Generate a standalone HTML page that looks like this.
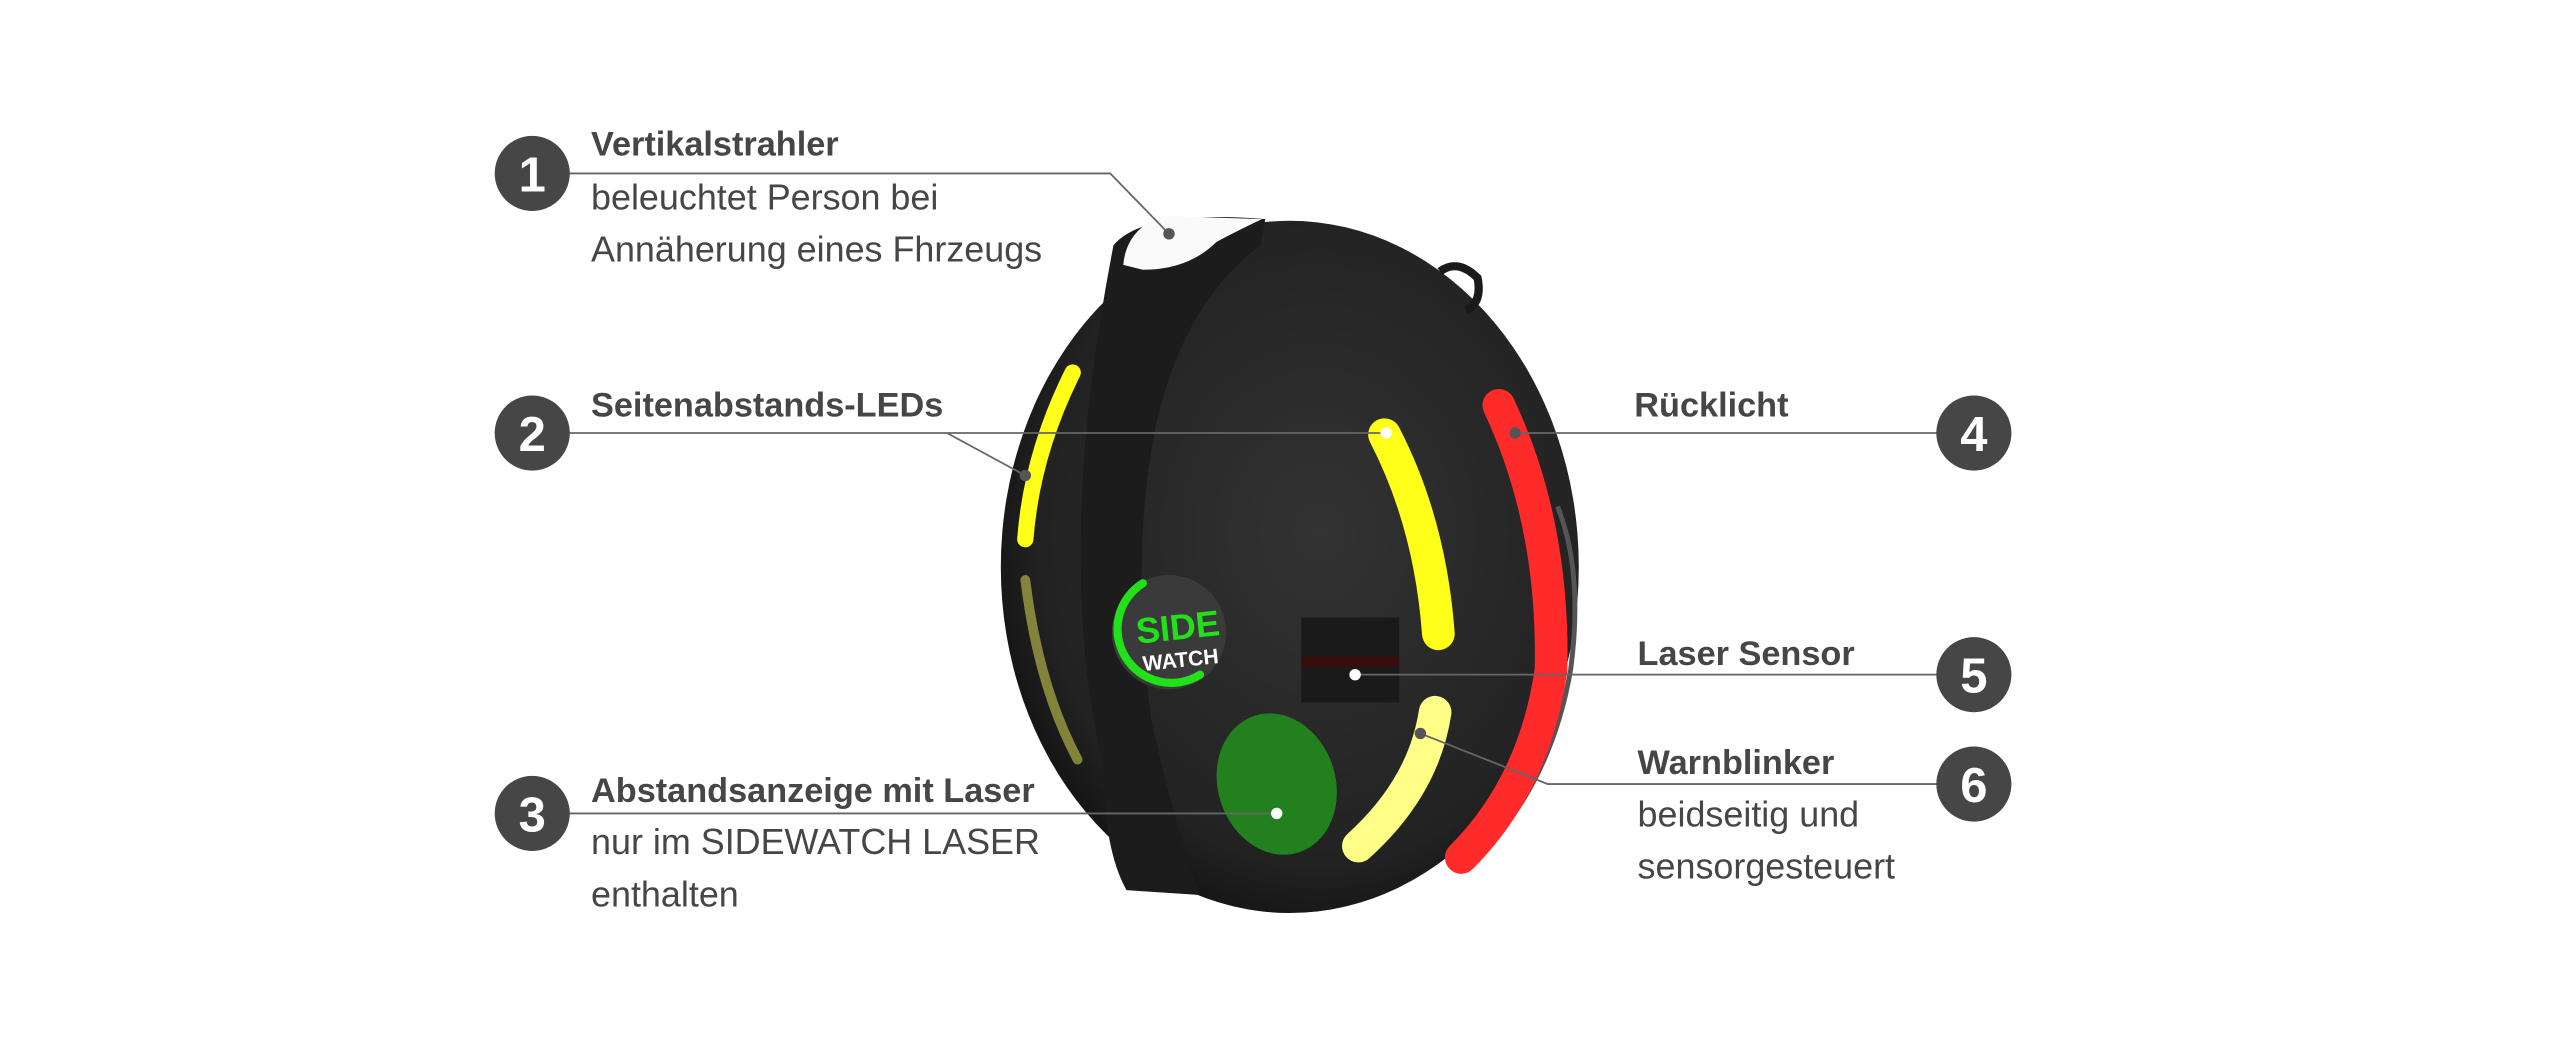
<!DOCTYPE html>
<html><head><meta charset="utf-8"><style>
html,body{margin:0;padding:0;background:#fff;}
svg{display:block;}
text{font-family:"Liberation Sans",sans-serif;}
</style></head><body>
<svg width="2560" height="1044" viewBox="0 0 1568 639" xmlns="http://www.w3.org/2000/svg">
<defs>
<radialGradient id="bg" cx="0.55" cy="0.45" r="0.6">
<stop offset="0" stop-color="#333"/><stop offset="0.8" stop-color="#222"/><stop offset="1" stop-color="#111"/>
</radialGradient>
</defs>
<rect width="1568" height="639" fill="#fff"/>
<ellipse cx="790" cy="347" rx="177" ry="212" fill="url(#bg)"/>
<path d="M954,310 Q970,350 962,410 Q950,480 905,525" fill="none" stroke="#555" stroke-width="3"/>
<path d="M682,150 Q700,128 775,134 L772,150 Q725,185 708,260 Q692,340 705,440 Q722,515 735,548 L690,545 Q676,520 676,470 Q645,340 682,150 Z" fill="#1c1c1c"/>
<path d="M688,162 Q690,140 712,132 L773,134 Q760,140 745,148 Q728,165 700,165 Z" fill="#fafafa"/>
<path d="M882,166 Q893,158 905,170 Q908,185 898,190" fill="none" stroke="#1a1a1a" stroke-width="5"/>
<path d="M657,228 Q632,278 628,330" fill="none" stroke="#ffff1a" stroke-width="10" stroke-linecap="round"/>
<path d="M628,355 Q636,420 660,465" fill="none" stroke="#c8c850" stroke-width="6" stroke-linecap="round" opacity="0.6"/>
<path d="M848,266 Q876,320 881,388" fill="none" stroke="#ffff1a" stroke-width="20" stroke-linecap="round"/>
<path d="M879,436 Q872,482 832,518" fill="none" stroke="#ffff88" stroke-width="20" stroke-linecap="round"/>
<path d="M918,248 Q952,320 950,410 Q940,480 895,525" fill="none" stroke="#ff2a2a" stroke-width="20" stroke-linecap="round"/>
<ellipse cx="782" cy="480" rx="36" ry="44" transform="rotate(-18 782 480)" fill="#22801f"/>
<rect x="797" y="378" width="60" height="52" fill="#1a1a1a"/>
<rect x="797" y="402" width="60" height="6" fill="#3a0d0d"/>
<circle cx="716" cy="387" r="35" fill="#3a3a3a"/>
<path d="M700,357 A30,30 0 0 0 735,413" fill="none" stroke="#22e01a" stroke-width="5" stroke-linecap="round"/>
<text x="696" y="392" font-size="22" font-weight="bold" fill="#22e01a" transform="rotate(-6 716 387)">SIDE</text>
<text x="698" y="409" font-size="13" font-weight="bold" fill="#fff" transform="rotate(-6 716 387)">WATCH</text>
<g fill="none" stroke="#666" stroke-width="1.1">
<path d="M348,106 L680,106 L716,143"/>
<path d="M348,265 L849,265"/>
<path d="M580,265 L628,291"/>
<path d="M348,498 L782,498"/>
<path d="M928,265 L1187,265"/>
<path d="M830,413 L1187,413"/>
<path d="M870,449 L948,480 L1187,480"/>
</g>
<g fill="#555">
<circle cx="716" cy="143" r="3.5"/>
<circle cx="628" cy="291" r="3.5"/>
<circle cx="928" cy="265" r="3.5"/>
<circle cx="870" cy="449" r="3.5"/>
</g>
<g fill="#fff">
<circle cx="849" cy="265" r="3.5"/>
<circle cx="782" cy="498" r="3.5"/>
<circle cx="830" cy="413" r="3.5"/>
</g>
<g fill="#464646">
<circle cx="326" cy="106" r="23"/><circle cx="326" cy="265" r="23"/><circle cx="326" cy="498" r="23"/>
<circle cx="1209" cy="265" r="23"/><circle cx="1209" cy="413" r="23"/><circle cx="1209" cy="480" r="23"/>
</g>
<g fill="#fff" font-size="30" font-weight="bold" text-anchor="middle">
<text x="326" y="117">1</text><text x="326" y="276">2</text><text x="326" y="509">3</text>
<text x="1209" y="276">4</text><text x="1209" y="424">5</text><text x="1209" y="491">6</text>
</g>
<g fill="#464646" font-size="22">
<text x="362" y="95" font-weight="bold" font-size="21">Vertikalstrahler</text>
<text x="362" y="128">beleuchtet Person bei</text>
<text x="362" y="160">Annäherung eines Fhrzeugs</text>
<text x="362" y="255" font-weight="bold" font-size="21">Seitenabstands-LEDs</text>
<text x="362" y="491" font-weight="bold" font-size="21">Abstandsanzeige mit Laser</text>
<text x="362" y="523">nur im SIDEWATCH LASER</text>
<text x="362" y="555">enthalten</text>
<text x="1001" y="255" font-weight="bold" font-size="21">Rücklicht</text>
<text x="1003" y="407" font-weight="bold" font-size="21">Laser Sensor</text>
<text x="1003" y="474" font-weight="bold" font-size="21">Warnblinker</text>
<text x="1003" y="506">beidseitig und</text>
<text x="1003" y="538">sensorgesteuert</text>
</g>
</svg>
</body></html>
